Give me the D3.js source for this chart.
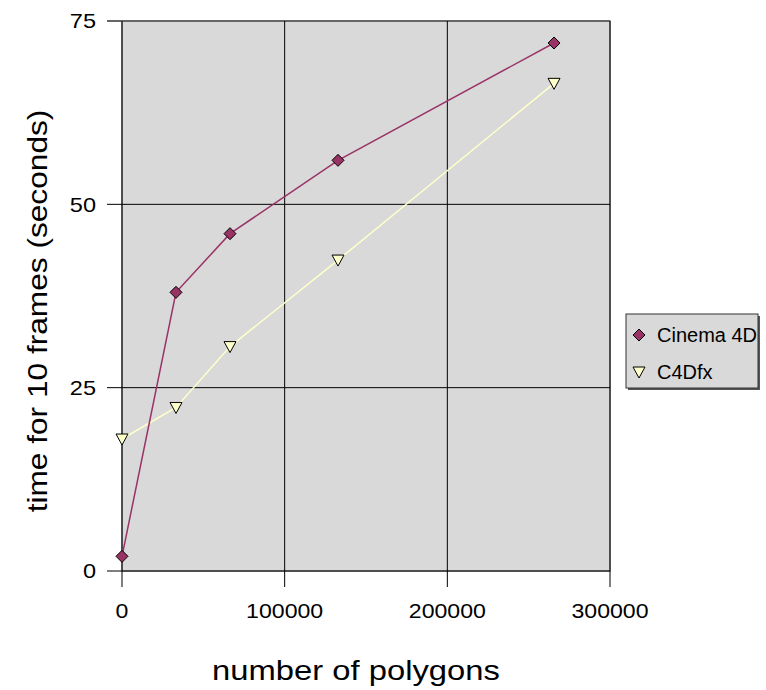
<!DOCTYPE html>
<html>
<head>
<meta charset="utf-8">
<script src="https://cdn.jsdelivr.net/npm/d3@7"></script>
<style>
  body { margin: 0; background: #fff; }
  text { font-family: "Liberation Sans", Arial, sans-serif; fill: #000; }
</style>
</head>
<body>
<div id="chart"></div>
<script>
const width = 766;
const height = 690;

// data
const polygons = [0, 33200, 66400, 132800, 265600];
const cinema4d = [2, 38, 46, 56, 72];
const c4dfx = [18, 22.3, 30.6, 42.4, 66.5];
const xTicks = [0, 100000, 200000, 300000];
const yTicks = [0, 25, 50, 75];
const seriesNames = ["Cinema 4D", "C4Dfx"];

const plot = { left: 122, top: 21, right: 610, bottom: 571 };

const svg = d3
  .select("#chart")
  .append("svg")
  .attr("width", width)
  .attr("height", height);

const x = d3.scaleLinear().domain([0, 300000]).range([plot.left, plot.right]);
const y = d3.scaleLinear().domain([0, 75]).range([plot.bottom, plot.top]);

// the original text is a bit wider than plain Arial
function stretch(sel, k) {
  sel.each(function () {
    const w = this.getComputedTextLength();
    d3.select(this)
      .attr("textLength", w * k)
      .attr("lengthAdjust", "spacingAndGlyphs");
  });
}

// plot background
svg
  .append("rect")
  .attr("x", plot.left)
  .attr("y", plot.top)
  .attr("width", plot.right - plot.left)
  .attr("height", plot.bottom - plot.top)
  .attr("fill", "#d9d9d9")
  .attr("stroke", "#808080")
  .attr("stroke-width", 1.5);

// gridlines (they stick out past the axes as tick marks)
svg
  .append("g")
  .selectAll("line")
  .data(yTicks)
  .enter()
  .append("line")
  .attr("x1", plot.left - 15)
  .attr("x2", plot.right)
  .attr("y1", (d) => y(d))
  .attr("y2", (d) => y(d))
  .attr("stroke", (d) => (d === 75 ? "#666" : "#000"))
  .attr("stroke-width", (d) => (d === 75 ? 2 : 1));

svg
  .append("g")
  .selectAll("line")
  .data(xTicks)
  .enter()
  .append("line")
  .attr("x1", (d) => x(d))
  .attr("x2", (d) => x(d))
  .attr("y1", plot.top)
  .attr("y2", plot.bottom + 16)
  .attr("stroke", "#000")
  .attr("stroke-width", 1);

// tick labels
svg
  .append("g")
  .selectAll("text")
  .data(yTicks)
  .enter()
  .append("text")
  .attr("x", 96)
  .attr("y", (d) => y(d))
  .attr("dy", "0.35em")
  .attr("text-anchor", "end")
  .style("font-size", "21px")
  .text((d) => d)
  .call(stretch, 1.12);

svg
  .append("g")
  .selectAll("text")
  .data(xTicks)
  .enter()
  .append("text")
  .attr("x", (d) => x(d))
  .attr("y", 618)
  .attr("text-anchor", "middle")
  .style("font-size", "21px")
  .text((d) => d)
  .call(stretch, 1.1);

// axis titles
svg
  .append("text")
  .attr("x", 356)
  .attr("y", 680)
  .attr("text-anchor", "middle")
  .style("font-size", "28px")
  .text("number of polygons")
  .call(stretch, 1.17);

svg
  .append("text")
  .attr("transform", "translate(47,311) rotate(-90)")
  .attr("text-anchor", "middle")
  .style("font-size", "28px")
  .text("time for 10 frames (seconds)")
  .call(stretch, 1.13);

// lines
const line = d3
  .line()
  .x((d) => x(d[0]))
  .y((d) => y(d[1]));

const cinemaPts = polygons.map((p, i) => [p, cinema4d[i]]);
const fxPts = polygons.map((p, i) => [p, c4dfx[i]]);

svg
  .append("path")
  .datum(fxPts)
  .attr("d", line)
  .attr("fill", "none")
  .attr("stroke", "#ffffcc")
  .attr("stroke-width", 1.5);

svg
  .append("path")
  .datum(cinemaPts)
  .attr("d", line)
  .attr("fill", "none")
  .attr("stroke", "#993366")
  .attr("stroke-width", 1.5);

// markers
const diamond = "M0,-6L6,0L0,6L-6,0Z";
const triangle = "M-6,-5L6,-5L0,6Z";

svg
  .append("g")
  .selectAll("path")
  .data(cinemaPts)
  .enter()
  .append("path")
  .attr("transform", (d) => "translate(" + x(d[0]) + "," + y(d[1]) + ")")
  .attr("d", diamond)
  .attr("fill", "#993366")
  .attr("stroke", "#000")
  .attr("stroke-width", 1);

svg
  .append("g")
  .selectAll("path")
  .data(fxPts)
  .enter()
  .append("path")
  .attr("transform", (d) => "translate(" + x(d[0]) + "," + y(d[1]) + ")")
  .attr("d", triangle)
  .attr("fill", "#ffffcc")
  .attr("stroke", "#000")
  .attr("stroke-width", 1);

// legend
const legend = svg.append("g").attr("transform", "translate(626,314)");

legend
  .append("rect")
  .attr("x", 2)
  .attr("y", 2)
  .attr("width", 132)
  .attr("height", 74)
  .attr("fill", "#555");

legend
  .append("rect")
  .attr("x", 0)
  .attr("y", 0)
  .attr("width", 132)
  .attr("height", 74)
  .attr("fill", "#d9d9d9")
  .attr("stroke", "#333")
  .attr("stroke-width", 1);

const markers = [
  { d: diamond, fill: "#993366" },
  { d: triangle, fill: "#ffffcc" },
];

seriesNames.forEach(function (name, i) {
  const yy = 21 + i * 37;
  legend
    .append("path")
    .attr("transform", "translate(13," + yy + ")")
    .attr("d", markers[i].d)
    .attr("fill", markers[i].fill)
    .attr("stroke", "#000");
  legend
    .append("text")
    .attr("x", 31)
    .attr("y", yy)
    .attr("dy", "0.35em")
    .style("font-size", "20px")
    .text(name);
});
</script>
</body>
</html>
